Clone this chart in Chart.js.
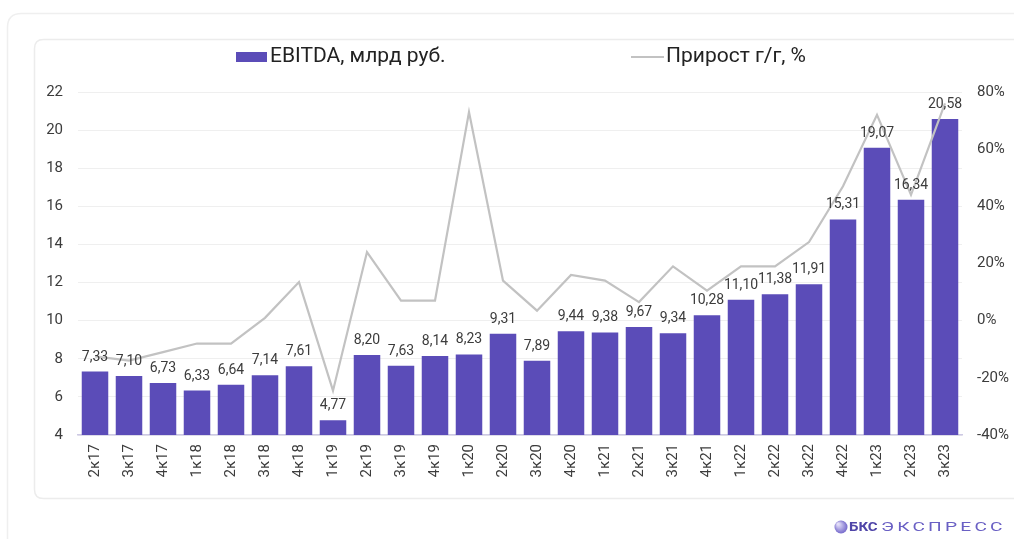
<!DOCTYPE html>
<html>
<head>
<meta charset="utf-8">
<script src="https://cdn.jsdelivr.net/npm/chart.js@4.4.1/dist/chart.umd.min.js"></script>
<style>
html,body{margin:0;padding:0;background:#fff;}
#wrap{width:1014px;height:539px;position:relative;}
canvas{display:block;}
</style>
</head>
<body>
<div id="wrap"><canvas id="c" width="1014" height="539" style="width:1014px;height:539px"></canvas></div>
<script>
const categories = ["2к17","3к17","4к17","1к18","2к18","3к18","4к18","1к19","2к19","3к19","4к19","1к20","2к20","3к20","4к20","1к21","2к21","3к21","4к21","1к22","2к22","3к22","4к22","1к23","2к23","3к23"];
const ebitda = [7.33,7.10,6.73,6.33,6.64,7.14,7.61,4.77,8.20,7.63,8.14,8.23,9.31,7.89,9.44,9.38,9.67,9.34,10.28,11.10,11.38,11.91,15.31,19.07,16.34,20.58];
const growth = [-12.5,-14,-11,-8,-8,1,13.5,-24.5,24,7,7,73,14,3.5,16,14,6.5,19,10.5,19,19,27.5,47,72,44,76];
const leftTicks = [4,6,8,10,12,14,16,18,20,22];
const rightTicks = [-40,-20,0,20,40,60,80];
const barLabel = "EBITDA, млрд руб.";
const lineLabel = "Прирост г/г, %";

const PURPLE = "#5b4cb8";
const GRAY_LINE = "#c2c2c2";
const TXT = "#3c3c3c";
const FONT = "Roboto";

function rr(ctx,x,y,w,h,r){
  ctx.beginPath();
  ctx.moveTo(x+r,y);ctx.lineTo(x+w-r,y);ctx.quadraticCurveTo(x+w,y,x+w,y+r);
  ctx.lineTo(x+w,y+h-r);ctx.quadraticCurveTo(x+w,y+h,x+w-r,y+h);
  ctx.lineTo(x+r,y+h);ctx.quadraticCurveTo(x,y+h,x,y+h-r);
  ctx.lineTo(x,y+r);ctx.quadraticCurveTo(x,y,x+r,y);ctx.closePath();
}

const framePlugin = {
  id:'frame',
  beforeDraw(chart){
    const ctx = chart.ctx;
    ctx.save();
    ctx.fillStyle = '#fff';
    ctx.fillRect(0,0,chart.width,chart.height);
    ctx.strokeStyle = '#efefef';
    ctx.lineWidth = 1.5;
    rr(ctx,7.5,13.5,1040,560,14); ctx.stroke();
    ctx.strokeStyle = '#ececec';
    rr(ctx,34.5,39.5,1010,459,9); ctx.stroke();
    ctx.restore();
  }
};

const legendPlugin = {
  id:'customLegend',
  afterDraw(chart){
    const ctx = chart.ctx;
    ctx.save();
    ctx.fillStyle = PURPLE;
    ctx.fillRect(236,52,31,10);
    ctx.font = "21px " + FONT;
    ctx.fillStyle = "#222";
    ctx.textBaseline = "middle";
    ctx.textAlign = "left";
    ctx.fillText(barLabel, 270, 57);
    ctx.strokeStyle = GRAY_LINE;
    ctx.lineWidth = 2;
    ctx.beginPath(); ctx.moveTo(631,57); ctx.lineTo(664,57); ctx.stroke();
    ctx.fillText(lineLabel, 666, 57);
    // logo
    const g = ctx.createRadialGradient(838,524,1,841,527,7);
    g.addColorStop(0,'#e2ddf8'); g.addColorStop(1,'#6f63c9');
    ctx.fillStyle = g;
    ctx.beginPath(); ctx.arc(841,527,6.5,0,Math.PI*2); ctx.fill();
    ctx.save();
    ctx.translate(849,528); ctx.scale(1.25,1);
    ctx.font = "bold 12px " + FONT;
    ctx.fillStyle = "#4f45a8";
    ctx.fillText("БКС", 0, 0);
    ctx.restore();
    ctx.save();
    ctx.translate(881,528); ctx.scale(1.6,1);
    ctx.font = "12px " + FONT;
    ctx.fillStyle = "#6a60c4";
    if ('letterSpacing' in ctx) ctx.letterSpacing = "2px";
    ctx.fillText("ЭКСПРЕСС", 0, 0);
    ctx.restore();
    ctx.restore();
  }
};

const labelPlugin = {
  id:'barLabels',
  afterDatasetsDraw(chart){
    const ctx = chart.ctx;
    const meta = chart.getDatasetMeta(0);
    ctx.save();
    ctx.font = "14px " + FONT;
    ctx.fillStyle = TXT;
    ctx.textAlign = "center";
    ctx.textBaseline = "alphabetic";
    meta.data.forEach((el,i)=>{
      const v = chart.data.datasets[0].data[i];
      ctx.fillText(v.toFixed(2).replace('.',','), el.x, el.y - 11);
    });
    ctx.restore();
  }
};

new Chart(document.getElementById('c'), {
  data:{
    labels: categories,
    datasets:[
      {type:'bar', label:barLabel, data:ebitda, backgroundColor:PURPLE, borderWidth:0,
       barPercentage:0.78, categoryPercentage:1.0, yAxisID:'y', order:1},
      {type:'line', label:lineLabel, data:growth, borderColor:GRAY_LINE, borderWidth:2.2,
       pointRadius:0, tension:0, fill:false, yAxisID:'y1', order:0}
    ]
  },
  options:{
    responsive:false,
    animation:false,
    layout:{padding:{top:92,left:0,right:0,bottom:0}},
    plugins:{legend:{display:false}, tooltip:{enabled:false}},
    scales:{
      x:{
        grid:{display:false, drawTicks:false},
        border:{display:true, color:'#cdc9e4', width:1.5},
        ticks:{autoSkip:false, minRotation:90, maxRotation:90, padding:9,
               color:TXT, font:{family:FONT, size:15}},
        afterFit(s){ s.height = 104; }
      },
      y:{
        position:'left', min:4, max:22,
        afterBuildTicks(s){ s.ticks = leftTicks.map(v=>({value:v})); },
        grid:{color:'#efefef', lineWidth:1, drawTicks:false},
        border:{display:false},
        ticks:{padding:15, color:TXT, font:{family:FONT, size:15}},
        afterFit(s){ s.width = 78; }
      },
      y1:{
        position:'right', min:-40, max:80,
        afterBuildTicks(s){ s.ticks = rightTicks.map(v=>({value:v})); },
        grid:{display:false, drawTicks:false},
        border:{display:false},
        ticks:{padding:15, color:TXT, font:{family:FONT, size:15}, callback:v=>v+'%'},
        afterFit(s){ s.width = 52; }
      }
    }
  },
  plugins:[framePlugin, labelPlugin, legendPlugin]
});
</script>
</body>
</html>
